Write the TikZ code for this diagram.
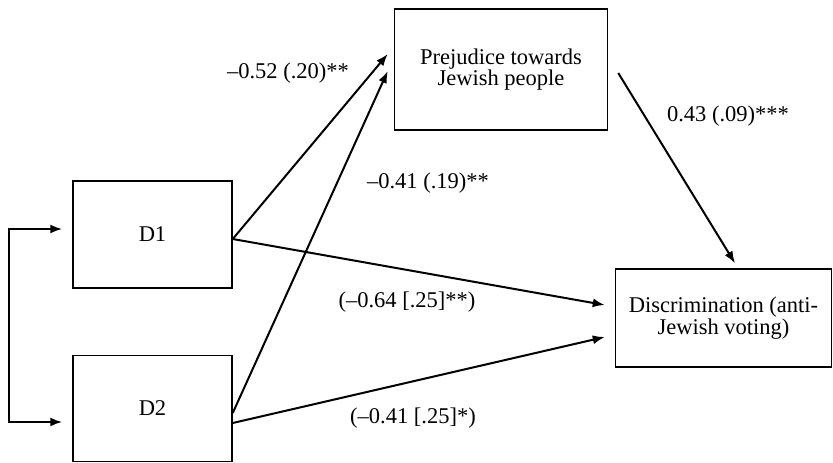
\documentclass[tikz,border=0pt]{standalone}
\usepackage{fontspec}
\setmainfont{Liberation Serif}
\usetikzlibrary{arrows.meta}
\tikzset{>={Latex[length=12pt,width=9pt]}}
\tikzset{varbox/.style={draw, line width=1.5pt, align=center, inner sep=0pt}}
\tikzset{coef/.style={draw=none, inner sep=0pt}}
\def\linethickness{2pt}

\begin{document}
\begin{tikzpicture}[x=1pt, y=-1pt, font=\fontsize{22.5}{21.5}\selectfont]
    \useasboundingbox (0, 0) rectangle (833, 463);
    \node[varbox, minimum width=159pt, minimum height=107pt] at (152.5, 234.5) (d1) {D1};
    \node[varbox, minimum width=159pt, minimum height=106pt] at (152.5, 408.5) (d2) {D2};
    \node[varbox, minimum width=213pt, minimum height=121pt] at (501, 69.5) (prej) {Prejudice towards\\Jewish people};
    \node[varbox, minimum width=216pt, minimum height=98pt] at (723.5, 318) (disc) {Discrimination (anti-\\Jewish voting)};
    \draw[<->, line width=\linethickness] ([xshift=-10pt, yshift=5.5pt]d1.west) -- ++(-53, 0) |- ([xshift=-10pt, yshift=-13.5pt]d2.west);
    \draw[->, line width=\linethickness] ([yshift=-4.5pt]d1.east) -- ([xshift=-6pt, yshift=15.5pt]prej.west);
    \draw[->, line width=\linethickness] ([yshift=-4.5pt]d2.east) -- ([xshift=-6pt, yshift=-1.5pt]prej.west);
    \draw[->, line width=\linethickness] ([yshift=-4.5pt]d1.east) -- ([xshift=-10pt, yshift=13pt]disc.west);
    \draw[->, line width=\linethickness] ([yshift=-14.5pt]d2.east) -- ([xshift=-10pt, yshift=-19pt]disc.west);
    \draw[->, line width=\linethickness] ([xshift=10pt, yshift=-3.5pt]prej.east) -- ([xshift=11.5pt, yshift=5pt]disc.north);
    \node[coef] at (288, 73) (c1) {–0.52 (.20)**};
    \node[coef] at (428, 183) (c2) {–0.41 (.19)**};
    \node[coef] at (728, 116) (c3) {0.43 (.09)***};
    \node[coef] at (407, 302) (c4) {(–0.64 [.25]**)};
    \node[coef] at (413, 418) (c5) {(–0.41 [.25]*)};
\end{tikzpicture}
\end{document}
